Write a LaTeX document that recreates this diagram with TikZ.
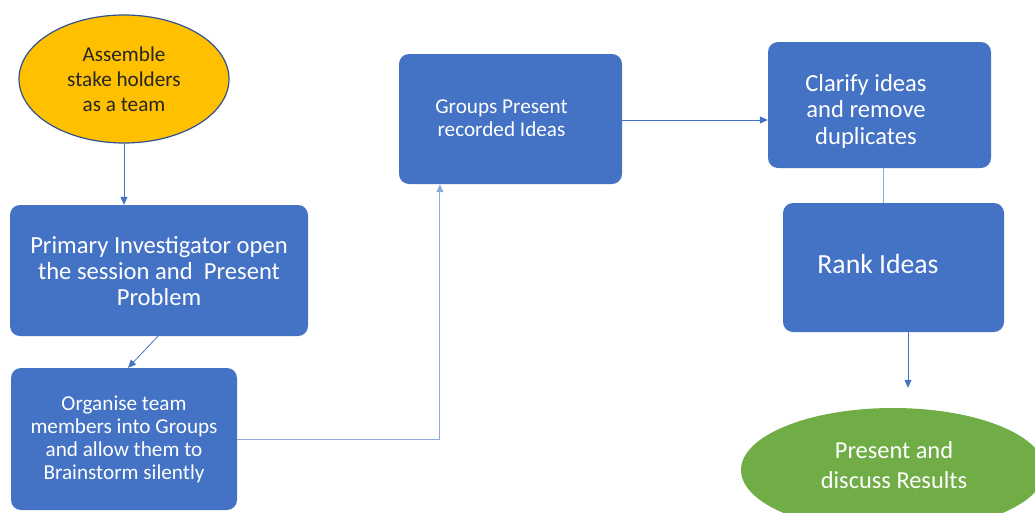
\documentclass[tikz,border=0pt]{standalone}
\usepackage{fontspec}
\setmainfont{Carlito}
\usetikzlibrary{arrows.meta,shapes.geometric,calc}
\definecolor{boxblue}{HTML}{4472C4}
\definecolor{darkedge}{HTML}{2F528F}
\definecolor{gold}{HTML}{FFC000}
\definecolor{leaf}{HTML}{70AD47}
\definecolor{lineblue}{HTML}{4472C4}
\definecolor{paleline}{HTML}{8FAADC}
\definecolor{inkdark}{HTML}{262626}
\tikzset{
  stepbox/.style={rectangle, rounded corners=10pt, fill=boxblue, draw=none, inner sep=0pt},
  txt/.style={text=white, align=center, inner sep=0pt},
  conn/.style={draw=lineblue, line width=0.8pt, -{Triangle[length=8pt,width=7pt]}},
  paleconn/.style={draw=paleline, line width=0.9pt},
}
\newcommand{\fsz}[2]{\fontsize{#1}{#2}\selectfont}
\begin{document}
\begin{tikzpicture}[x=1pt,y=-1pt]
\useasboundingbox (0,0) rectangle (1035,512);
\clip (0,0) rectangle (1035,512);
% start ellipse
\node[ellipse, fill=gold, draw=darkedge, line width=1.2pt, minimum width=210pt, minimum height=128pt, inner sep=0pt,
  text=inkdark, align=center, font=\fsz{21.2}{25}] (ell1) at (124,79) {Assemble\\stake holders\\as a team};
% boxes
\node[stepbox, minimum width=298pt, minimum height=131pt,
  label={[txt, font=\fsz{24.6}{26}, yshift=-0.5pt]center:Primary Investigator open\\the session and~~Present\\Problem}] (box1) at (159,270.5) {};
\node[stepbox, minimum width=226pt, minimum height=142pt,
  label={[txt, font=\fsz{21.2}{23}]center:Organise team\\members into Groups\\and allow them to\\Brainstorm silently}] (box2) at (124,439) {};
\node[stepbox, minimum width=223pt, minimum height=130pt,
  label={[txt, font=\fsz{21.2}{23}, xshift=-9pt, yshift=1pt]center:Groups Present\\recorded Ideas}] (box3) at (510.5,119) {};
\node[stepbox, minimum width=223pt, minimum height=126pt,
  label={[txt, font=\fsz{24.6}{26.5}, xshift=-13.5pt, yshift=-6pt]center:Clarify ideas\\and remove\\duplicates}] (box4) at (879.5,105) {};
\node[stepbox, minimum width=221pt, minimum height=129pt,
  label={[txt, font=\fsz{27.7}{27}, xshift=-15.5pt, yshift=3.5pt]center:Rank Ideas}] (box5) at (893.5,267.5) {};
% end ellipse
\node[ellipse, fill=leaf, draw=none, minimum width=304pt, minimum height=124pt, inner sep=0pt,
  text=white, align=center, font=\fsz{24.4}{30}] (ell2) at (893,470) {};
\node[text=white, align=center, font=\fsz{24.4}{30}, inner sep=0pt] (ell2txt) at (894,465) {Present and\\discuss Results};
% connectors
\draw[conn] (ell1.south) -- (ell1.south |- box1.north);
\draw[conn] ([xshift=-1pt]box1.south) -- ([xshift=4pt]box2.north);
\draw[paleconn, -{Triangle[length=8pt,width=7pt]}, draw=paleline] (box2.east) -| ($(box3.south west)!0.184!(box3.south east)$);
\draw[conn] (box3.east |- 0,120) -- (box4.west |- 0,120);
\draw[paleconn] ([xshift=3.5pt]box4.south) -- ([xshift=3.5pt]box4.south |- box5.north);
\draw[conn, shorten >=20pt] ([xshift=14.5pt]box5.south) -- ([xshift=14.5pt]box5.south |- ell2.north);
\end{tikzpicture}
\end{document}
